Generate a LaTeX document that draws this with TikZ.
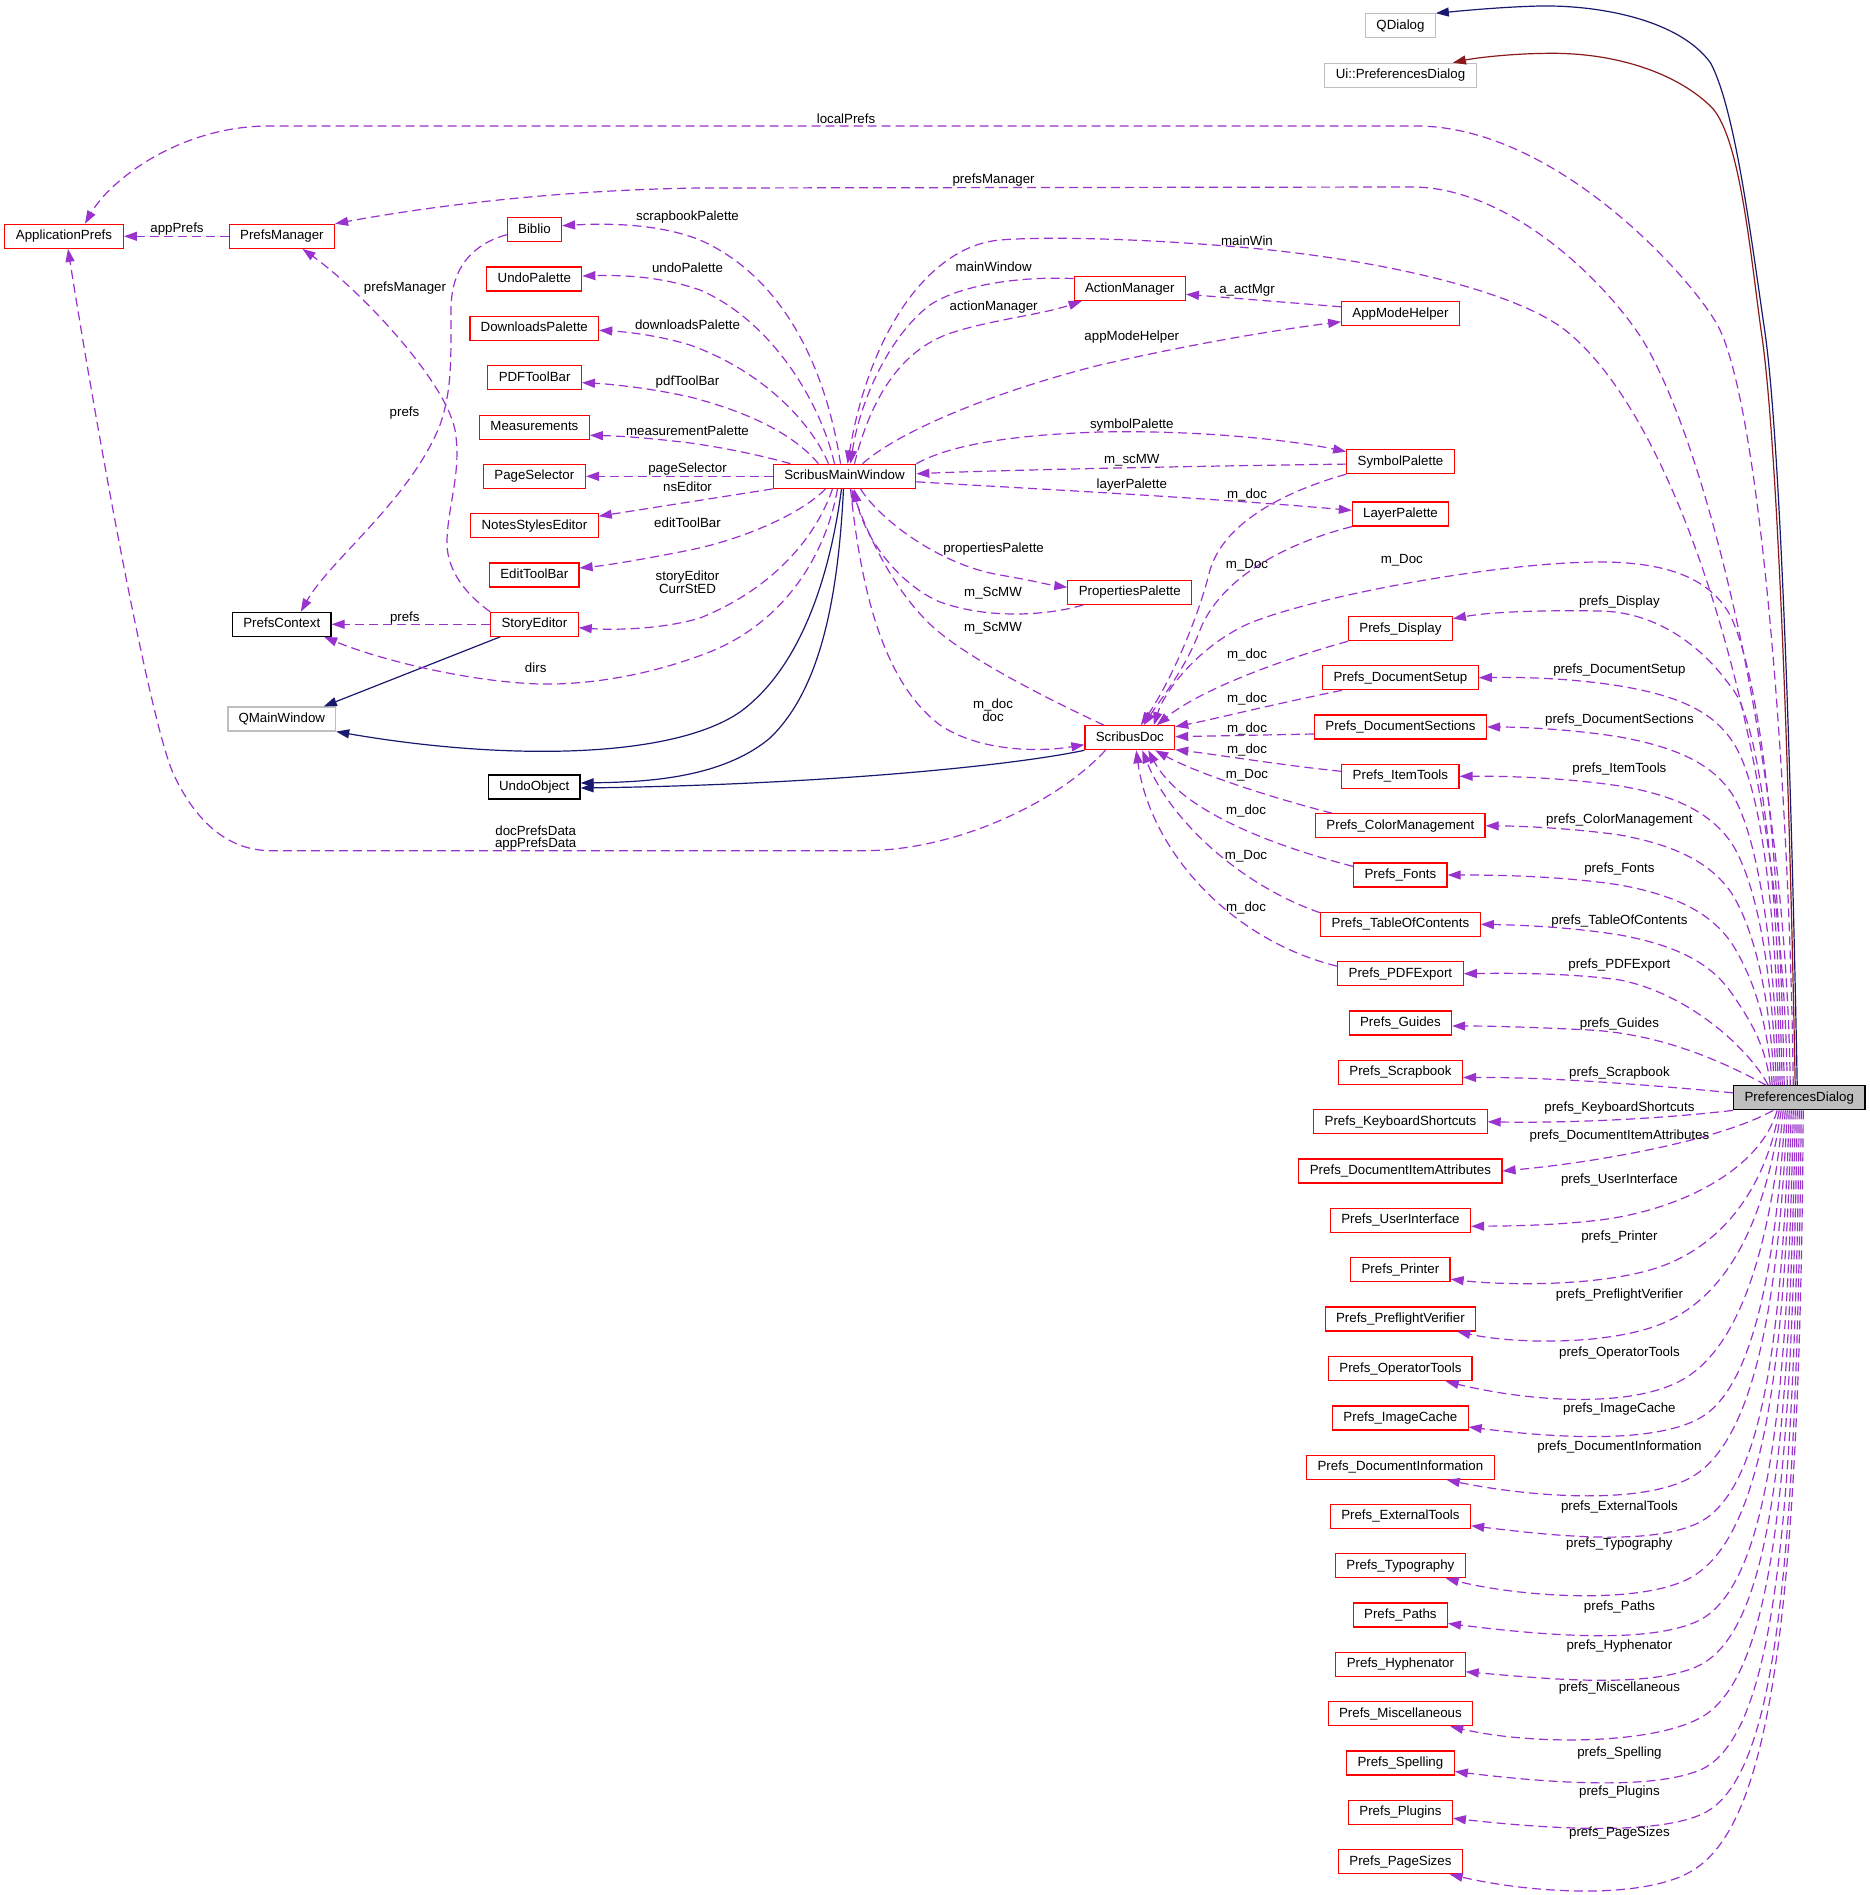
\documentclass[tikz,border=0pt]{standalone}
\usepackage{fontspec}
\setmainfont{Liberation Sans}
\usetikzlibrary{arrows.meta}
\definecolor{epurple}{HTML}{9A32CD}
\definecolor{enavy}{HTML}{191970}
\definecolor{ered}{HTML}{8B1A1A}
\definecolor{bred}{HTML}{FF0000}
\definecolor{bgray}{HTML}{BFBFBF}
\newcommand\dgfont{\fontsize{13.3}{12.7}\selectfont}
\tikzset{
 cls/.style={draw=bred, line width=1.2pt, fill=white, minimum height=24pt, inner sep=0pt, text height=9.7pt, text depth=2.8pt, font=\dgfont},
 ext/.style={cls, draw=bgray},
 blk/.style={cls, draw=black},
 cur/.style={cls, draw=black, fill=bgray},
 lbl/.style={font=\dgfont, inner sep=0pt, text height=9.7pt, text depth=2.8pt},
 lbltwo/.style={font=\dgfont, inner sep=0pt, align=center},
 use/.style={draw=epurple, line width=1.2pt, dash pattern=on 9pt off 5pt, -{Triangle[length=13pt,width=9pt]}},
 inhn/.style={draw=enavy, line width=1.2pt, -{Triangle[length=13pt,width=9pt]}},
 inhr/.style={draw=ered, line width=1.2pt, -{Triangle[length=13pt,width=9pt]}}
}
\begin{document}
\begin{tikzpicture}[x=1pt,y=-1pt]
\path[fill=white] (0,0) rectangle (1870,1895);
\useasboundingbox (0,0) rectangle (1870,1895);

% ---------- nodes ----------
\node[ext, minimum width=69.4pt] (qd) at (1400.5,25.8) {QDialog};
\node[ext, minimum width=151.6pt] (ui) at (1400.5,75.3) {Ui::PreferencesDialog};
\node[cls, minimum width=118.7pt] (ap) at (64,236.3) {ApplicationPrefs};
\node[cls, minimum width=105.2pt] (pm) at (281.9,236.3) {PrefsManager};
\node[cls, minimum width=54.2pt] (bib) at (534.4,229.7) {Biblio};
\node[cls, minimum width=95pt] (undo) at (534.3,279) {UndoPalette};
\node[cls, minimum width=128.6pt] (dl) at (534.3,328.3) {DownloadsPalette};
\node[cls, minimum width=93.5pt] (pdf) at (534.6,377.7) {PDFToolBar};
\node[cls, minimum width=109.7pt] (meas) at (534.4,427.3) {Measurements};
\node[cls, minimum width=102.2pt] (psel) at (534.3,476.3) {PageSelector};
\node[cls, minimum width=127.5pt] (nse) at (534.4,525.7) {NotesStylesEditor};
\node[cls, minimum width=89.4pt] (etb) at (534.3,575) {EditToolBar};
\node[cls, minimum width=87.5pt] (se) at (534.4,624.3) {StoryEditor};
\node[blk, minimum width=98.5pt] (pc) at (281.8,624.3) {PrefsContext};
\node[ext, minimum width=107.6pt] (qmw) at (281.8,719) {QMainWindow};
\node[blk, minimum width=91.7pt] (uo) at (534.2,787) {UndoObject};
\node[cls, minimum width=142.5pt] (smw) at (844.5,476.3) {ScribusMainWindow};
\node[cls, minimum width=111.1pt] (am) at (1129.8,288.6) {ActionManager};
\node[cls, minimum width=117.5pt] (amh) at (1400.5,313.8) {AppModeHelper};
\node[cls, minimum width=107.5pt] (sym) at (1400.5,461.6) {SymbolPalette};
\node[cls, minimum width=96.1pt] (lay) at (1400.5,514) {LayerPalette};
\node[cls, minimum width=123.9pt] (pp) at (1129.8,592.3) {PropertiesPalette};
\node[cls, minimum width=89.6pt] (sd) at (1129.8,737.7) {ScribusDoc};
\node[cur, minimum width=131.6pt] (pd) at (1799.2,1097.8) {PreferencesDialog};

\node[cls, minimum width=103.8pt] (pdisp) at (1400.4,628.7) {Prefs\_Display};
\node[cls, minimum width=155.7pt] (pdset) at (1400.4,677.7) {Prefs\_DocumentSetup};
\node[cls, minimum width=172.1pt] (pdsec) at (1400.4,727) {Prefs\_DocumentSections};
\node[cls, minimum width=117.2pt] (pit) at (1400.4,776.3) {Prefs\_ItemTools};
\node[cls, minimum width=169.3pt] (pcm) at (1400.4,825.8) {Prefs\_ColorManagement};
\node[cls, minimum width=93.3pt] (pfo) at (1400.4,875) {Prefs\_Fonts};
\node[cls, minimum width=159.6pt] (ptoc) at (1400.4,924.3) {Prefs\_TableOfContents};
\node[cls, minimum width=125.6pt] (ppdf) at (1400.4,973.7) {Prefs\_PDFExport};
\node[cls, minimum width=102.4pt] (pgu) at (1400.4,1023) {Prefs\_Guides};
\node[cls, minimum width=124.2pt] (psc) at (1400.4,1072.5) {Prefs\_Scrapbook};
\node[cls, minimum width=173.4pt] (pks) at (1400.4,1121.8) {Prefs\_KeyboardShortcuts};
\node[cls, minimum width=203.1pt] (pdia) at (1400.4,1171) {Prefs\_DocumentItemAttributes};
\node[cls, minimum width=140.3pt] (pui) at (1400.4,1220.3) {Prefs\_UserInterface};
\node[cls, minimum width=99.3pt] (ppr) at (1400.4,1269.7) {Prefs\_Printer};
\node[cls, minimum width=150.5pt] (ppv) at (1400.4,1319) {Prefs\_PreflightVerifier};
\node[cls, minimum width=143.3pt] (pot) at (1400.4,1368.7) {Prefs\_OperatorTools};
\node[cls, minimum width=135.4pt] (pimc) at (1400.4,1418) {Prefs\_ImageCache};
\node[cls, minimum width=187.4pt] (pdi) at (1400.4,1467.3) {Prefs\_DocumentInformation};
\node[cls, minimum width=140.3pt] (pet) at (1400.4,1516.3) {Prefs\_ExternalTools};
\node[cls, minimum width=129.4pt] (pty) at (1400.4,1565.7) {Prefs\_Typography};
\node[cls, minimum width=94pt] (ppa) at (1400.4,1615) {Prefs\_Paths};
\node[cls, minimum width=129.4pt] (phy) at (1400.4,1664.3) {Prefs\_Hyphenator};
\node[cls, minimum width=144.4pt] (pmi) at (1400.4,1713.7) {Prefs\_Miscellaneous};
\node[cls, minimum width=107.6pt] (psp) at (1400.4,1763) {Prefs\_Spelling};
\node[cls, minimum width=103.8pt] (ppl) at (1400.4,1812.3) {Prefs\_Plugins};
\node[cls, minimum width=123.4pt] (pps) at (1400.4,1861.7) {Prefs\_PageSizes};

% ---------- inheritance ----------
\draw[inhn] ([xshift=-2pt]pd.north) .. controls (1790,700) and (1778,420) .. (1764.6,330) .. controls (1750,230) and (1735,110) .. (1710.8,63.3) .. controls (1680,20) and (1600,5) .. (1540,6) .. controls (1500,7) and (1460,11) .. (qd.north east);
\draw[inhr] ([xshift=-4pt]pd.north) .. controls (1788,700) and (1775,420) .. (1761,330) .. controls (1750,250) and (1740,140) .. (1712.6,108.3) .. controls (1680,75) and (1620,53) .. (1550.8,53.3) .. controls (1510,53.5) and (1475,58) .. ([xshift=-24pt]ui.north east);
\draw[inhn] ([xshift=10pt]se.south west) -- ([xshift=42pt]qmw.north);
\draw[inhn] ([xshift=-3pt]smw.south) .. controls (828,590) and (795,672) .. (740,712) .. controls (670,760) and (500,760) .. (qmw.south east);
\draw[inhn] ([xshift=-1pt]smw.south) .. controls (838,600) and (820,690) .. (770,738) .. controls (720,780) and (640,782) .. ([yshift=4pt]uo.east);
\draw[inhn] (sd.south west) .. controls (1000,768) and (800,785) .. ([yshift=-1pt]uo.east);

% ---------- PreferencesDialog upper edges ----------
\draw[use] ([xshift=-6pt]pd.north) .. controls (1790,800) and (1762,420) .. (1720,330) .. controls (1700,287) and (1560,126) .. (1416,126) -- (269,126) .. controls (180,126) and (110,180) .. ([xshift=21pt]ap.north);
\draw[use] ([xshift=-9pt]pd.north) .. controls (1786,750) and (1700,420) .. (1636,330) .. controls (1590,265) and (1500,187) .. (1412,187) -- (700,188) .. controls (550,190) and (420,208) .. (pm.north east);
\draw[use] ([xshift=-12pt]pd.north) .. controls (1783,750) and (1680,420) .. (1565,330) .. controls (1520,295) and (1400,262) .. (1250,248) .. controls (1150,239) and (1050,236) .. (1000,240) .. controls (930,246) and (870,330) .. ([xshift=3pt]smw.north);
\draw[use] ([xshift=-15pt]pd.north) .. controls (1780,850) and (1760,680) .. (1731,617) .. controls (1712,580) and (1670,562) .. (1600,562) .. controls (1500,562) and (1320,595) .. (1250,623) .. controls (1200,645) and (1165,690) .. ([xshift=24pt]sd.north);
\draw[use] ([xshift=-17pt]pd.north) .. controls (1778,880) and (1760,720) .. (1731,687) .. controls (1705,650) and (1660,612) .. (1600,611) .. controls (1540,610) and (1490,612) .. ([yshift=10pt]pdisp.east);
\draw[use] ([xshift=-19pt]pd.north) .. controls (1776,900) and (1760,780) .. (1731.5,740) .. controls (1712,712) and (1680,696) .. (1620,686) .. controls (1570,678) and (1520,677) .. (pdset.east);
\draw[use] ([xshift=-21pt]pd.north) .. controls (1774,930) and (1755,830) .. (1731.5,793) .. controls (1712,765) and (1680,748) .. (1620,737) .. controls (1570,729) and (1520,727) .. (pdsec.east);
\draw[use] ([xshift=-23pt]pd.north) .. controls (1772,960) and (1755,880) .. (1731.5,843) .. controls (1712,815) and (1680,796) .. (1620,786) .. controls (1560,777) and (1500,776) .. (pit.east);
\draw[use] ([xshift=-25pt]pd.north) .. controls (1770,990) and (1752,925) .. (1731.5,893) .. controls (1712,865) and (1680,846) .. (1620,835) .. controls (1570,828) and (1520,826) .. (pcm.east);
\draw[use] ([xshift=-27pt]pd.north) .. controls (1768,1020) and (1752,975) .. (1731.5,943) .. controls (1712,915) and (1680,896) .. (1620,885) .. controls (1560,876) and (1500,875) .. (pfo.east);
\draw[use] ([xshift=-29pt]pd.north) .. controls (1766,1045) and (1750,1020) .. (1731.5,993) .. controls (1712,965) and (1680,946) .. (1620,935) .. controls (1570,927) and (1520,925) .. (ptoc.east);
\draw[use] ([xshift=-31pt]pd.north) .. controls (1750,1050) and (1690,994) .. (1620,980) .. controls (1570,973) and (1510,973) .. (ppdf.east);
\draw[use] ([xshift=-33pt]pd.north) .. controls (1720,1060) and (1660,1034) .. (1590,1030) .. controls (1530,1027) and (1490,1026) .. ([yshift=-3pt]pgu.east);
\draw[use] ([yshift=5pt]pd.west) .. controls (1650,1085) and (1550,1077) .. ([yshift=-5pt]psc.east);
\draw[use] (pd.south west) .. controls (1650,1120) and (1560,1123) .. (pks.east);

% ---------- PreferencesDialog lower edges ----------
\draw[use] ([xshift=-26pt]pd.south) .. controls (1720,1140) and (1600,1162) .. (pdia.east);
\draw[use] ([xshift=-22pt]pd.south) .. controls (1760,1170) and (1680,1210) .. (1600,1220) .. controls (1550,1226) and (1500,1226) .. ([yshift=-6pt]pui.east);
\draw[use] ([xshift=-20pt]pd.south) .. controls (1765,1190) and (1720,1250) .. (1650,1270) .. controls (1590,1287) and (1500,1285) .. ([yshift=-9.5pt]ppr.east);
\draw[use] ([xshift=-18pt]pd.south) .. controls (1765,1220) and (1730,1290) .. (1670,1320) .. controls (1620,1345) and (1520,1345) .. ([xshift=-19pt]ppv.south east);
\draw[use] ([xshift=-16pt]pd.south) .. controls (1770,1250) and (1740,1340) .. (1690,1375) .. controls (1640,1410) and (1530,1402) .. ([xshift=-27pt]pot.south east);
\draw[use] ([xshift=-14pt]pd.south) .. controls (1775,1280) and (1750,1390) .. (1700,1418) .. controls (1650,1446) and (1540,1436) .. ([yshift=-9pt]pimc.east);
\draw[use] ([xshift=-12pt]pd.south) .. controls (1778,1320) and (1750,1445) .. (1690,1478) .. controls (1640,1505) and (1530,1497) .. ([xshift=-48pt]pdi.south east);
\draw[use] ([xshift=-10pt]pd.south) .. controls (1782,1350) and (1760,1490) .. (1700,1522) .. controls (1650,1548) and (1540,1534) .. ([yshift=-9.5pt]pet.east);
\draw[use] ([xshift=-8pt]pd.south) .. controls (1785,1380) and (1760,1540) .. (1690,1578) .. controls (1640,1605) and (1520,1597) .. ([xshift=-20pt]pty.south east);
\draw[use] ([xshift=-6pt]pd.south) .. controls (1788,1420) and (1765,1585) .. (1700,1620) .. controls (1650,1645) and (1540,1635) .. ([yshift=-8.5pt]ppa.east);
\draw[use] ([xshift=-4pt]pd.south) .. controls (1790,1460) and (1768,1630) .. (1700,1665) .. controls (1650,1690) and (1540,1678) .. ([yshift=-7.5pt]phy.east);
\draw[use] ([xshift=-2pt]pd.south) .. controls (1792,1500) and (1770,1680) .. (1700,1718) .. controls (1650,1745) and (1530,1745) .. ([xshift=-23pt]pmi.south east);
\draw[use] (pd.south) .. controls (1795,1550) and (1770,1740) .. (1700,1770) .. controls (1650,1791) and (1540,1782) .. ([yshift=-8.5pt]psp.east);
\draw[use] ([xshift=2pt]pd.south) .. controls (1797,1600) and (1772,1785) .. (1700,1815) .. controls (1650,1836) and (1540,1828) .. ([yshift=-6pt]ppl.east);
\draw[use] ([xshift=4pt]pd.south) .. controls (1800,1650) and (1765,1830) .. (1690,1872) .. controls (1640,1900) and (1530,1893) .. ([xshift=-13pt]pps.south east);

% ---------- ScribusMainWindow left side ----------
\draw[use] ([xshift=-4pt]smw.north) .. controls (828,380) and (790,280) .. (700,240) .. controls (660,224) and (610,223) .. ([yshift=4pt]bib.east);
\draw[use] ([xshift=-10pt]smw.north) .. controls (820,400) and (770,320) .. (700,290) .. controls (660,276) and (620,275) .. ([yshift=3pt]undo.east);
\draw[use] ([xshift=-16pt]smw.north) .. controls (810,420) and (760,370) .. (690,345) .. controls (660,336) and (630,332) .. ([yshift=-2pt]dl.east);
\draw[use] ([xshift=-26pt]smw.north) .. controls (790,430) and (740,410) .. (690,397) .. controls (650,388) and (610,384) .. ([yshift=-5pt]pdf.east);
\draw[use] ([xshift=-54pt]smw.north) .. controls (760,455) and (720,447) .. (690,443) .. controls (650,438) and (620,436) .. ([yshift=-8pt]meas.east);
\draw[use] (smw.west) -- (psel.east);
\draw[use] (smw.south west) -- ([yshift=9.5pt]nse.east);
\draw[use] ([xshift=-19pt]smw.south) .. controls (800,515) and (740,540) .. (690,550) .. controls (650,558) and (610,565) .. ([yshift=7pt]etb.east);
\draw[use] ([xshift=-12pt]smw.south) .. controls (815,540) and (770,590) .. (700,618) .. controls (660,630) and (610,630) .. ([yshift=-3.4pt]se.east);
\draw[use] ([xshift=-7pt]smw.south) .. controls (825,560) and (780,625) .. (707,653) .. controls (650,675) and (590,685) .. (540,684) .. controls (470,682) and (380,660) .. ([xshift=-7.5pt]pc.south east);
\draw[use] (se.west) -- (pc.east);
\draw[use] (se.north west) .. controls (460,590) and (446,565) .. (447,540) .. controls (448,505) and (462,470) .. (455,430) .. controls (445,380) and (360,290) .. ([xshift=20.6pt]pm.south);
\draw[use] ([yshift=-5pt]bib.west) .. controls (470,245) and (451,270) .. (451,310) .. controls (451,360) and (452,390) .. (440,425) .. controls (410,500) and (330,560) .. ([xshift=19pt]pc.north);
\draw[use] (pm.west) -- (ap.east);
\draw[use] ([xshift=21pt]sd.south west) .. controls (1060,800) and (960,850) .. (865,850.7) -- (271,850.7) .. controls (220,850.7) and (190,810) .. (173,773) .. controls (150,720) and (100,450) .. ([xshift=4pt]ap.south);

% ---------- ScribusMainWindow right side ----------
\draw[use] ([yshift=10pt]am.west) .. controls (1020,276) and (960,285) .. (930,305) .. controls (890,335) and (860,400) .. ([xshift=6pt]smw.north);
\draw[use] ([xshift=10pt]smw.north) .. controls (870,400) and (900,350) .. (951,333) .. controls (990,320) and (1040,315) .. ([xshift=8pt]am.south west);
\draw[use] ([yshift=7pt]amh.west) -- ([yshift=-5.7pt]am.east);
\draw[use] ([xshift=18pt]smw.north) .. controls (900,430) and (1000,390) .. (1100,365) .. controls (1200,342) and (1290,328) .. ([yshift=-8pt]amh.west);
\draw[use] (smw.north east) .. controls (950,445) and (1010,435) .. (1100,432) .. controls (1200,430) and (1290,440) .. ([yshift=10pt]sym.west);
\draw[use] ([yshift=-2.5pt]sym.west) .. controls (1200,466) and (1000,470) .. ([yshift=2.5pt]smw.east);
\draw[use] ([yshift=-5.5pt]smw.east) .. controls (1000,487) and (1200,497) .. ([yshift=3.6pt]lay.west);
\draw[use] ([xshift=16pt]smw.south) .. controls (880,520) and (940,565) .. (1000,575) .. controls (1030,580) and (1050,585) .. ([yshift=5pt]pp.west);
\draw[use] ([xshift=16pt]pp.south west) .. controls (1050,615) and (990,620) .. (940,602) .. controls (900,585) and (865,540) .. ([xshift=9.5pt]smw.south);
\draw[use] ([xshift=-26pt]sd.north) .. controls (1050,700) and (970,660) .. (933,627) .. controls (895,592) and (870,540) .. ([xshift=7pt]smw.south);
\draw[use] ([xshift=6pt]smw.south) .. controls (860,580) and (880,680) .. (940,725) .. controls (980,752) and (1040,752) .. ([yshift=-7pt]sd.west);

% ---------- into ScribusDoc ----------
\draw[use] (sym.south west) .. controls (1290,490) and (1225,520) .. (1210,570) .. controls (1195,630) and (1165,690) .. ([xshift=11pt]sd.north);
\draw[use] (lay.south west) .. controls (1280,545) and (1220,580) .. (1200,630) .. controls (1185,670) and (1160,700) .. ([xshift=14pt]sd.north);
\draw[use] (pdisp.south west) .. controls (1280,660) and (1200,690) .. ([xshift=27pt]sd.north);
\draw[use] ([xshift=20pt]pdset.south west) .. controls (1270,705) and (1210,720) .. ([yshift=11pt]sd.east);
\draw[use] ([yshift=-7pt]pdsec.west) -- ([yshift=1pt]sd.east);
\draw[use] ([yshift=5pt]pit.west) .. controls (1280,765) and (1220,755) .. ([yshift=-12pt]sd.east);
\draw[use] ([xshift=17pt]pcm.north west) .. controls (1280,800) and (1200,775) .. ([xshift=-20pt]sd.south east);
\draw[use] ([yshift=-4pt]pfo.north west) .. controls (1270,845) and (1180,810) .. ([xshift=-27pt]sd.south east);
\draw[use] ([yshift=-1pt]ptoc.north west) .. controls (1240,885) and (1170,820) .. ([xshift=-33pt]sd.south east);
\draw[use] ([yshift=-5pt]ppdf.north west) .. controls (1230,940) and (1150,850) .. ([xshift=-39pt]sd.south east);

% ---------- labels ----------
\node[lbl] (l01) at (846,119.7) {localPrefs};
\node[lbl] (l02) at (993.6,180) {prefsManager};
\node[lbl] (l03) at (177,229) {appPrefs};
\node[lbl] (l04) at (405,288) {prefsManager};
\node[lbl] (l05) at (404.5,413) {prefs};
\node[lbl] (l06) at (404.8,617.7) {prefs};
\node[lbl] (l07) at (535.7,668.7) {dirs};
\node[lbl] (l08) at (687.5,217.3) {scrapbookPalette};
\node[lbl] (l09) at (687.5,269.3) {undoPalette};
\node[lbl] (l10) at (687.5,325.7) {downloadsPalette};
\node[lbl] (l11) at (687.5,381.7) {pdfToolBar};
\node[lbl] (l12) at (687.5,432.3) {measurementPalette};
\node[lbl] (l13) at (687.5,469.3) {pageSelector};
\node[lbl] (l14) at (687.5,488.3) {nsEditor};
\node[lbl] (l15) at (687.5,524.3) {editToolBar};
\node[lbltwo] (l16) at (687.5,582) {storyEditor\\CurrStED};
\node[lbl] (l17) at (1247,241.8) {mainWin};
\node[lbl] (l18) at (993.6,268.4) {mainWindow};
\node[lbl] (l19) at (993.6,307) {actionManager};
\node[lbl] (l20) at (1247,289.6) {a\_actMgr};
\node[lbl] (l21) at (1131.8,337.5) {appModeHelper};
\node[lbl] (l22) at (1131.8,424.6) {symbolPalette};
\node[lbl] (l23) at (1131.8,460.4) {m\_scMW};
\node[lbl] (l24) at (1131.8,484.6) {layerPalette};
\node[lbl] (l25) at (1247,495.4) {m\_doc};
\node[lbl] (l26) at (993.6,548.8) {propertiesPalette};
\node[lbl] (l27) at (993,593.3) {m\_ScMW};
\node[lbl] (l28) at (993,627.7) {m\_ScMW};
\node[lbl] (l29) at (1247,564.6) {m\_Doc};
\node[lbl] (l30) at (1401.8,560.4) {m\_Doc};
\node[lbl] (l31) at (1247,655.4) {m\_doc};
\node[lbl] (l32) at (1247,699.3) {m\_doc};
\node[lbl] (l33) at (1247,729.3) {m\_doc};
\node[lbl] (l34) at (1247,749.6) {m\_doc};
\node[lbl] (l35) at (1247,775.4) {m\_Doc};
\node[lbl] (l36) at (1246,811) {m\_doc};
\node[lbl] (l37) at (1246,856) {m\_Doc};
\node[lbl] (l38) at (1246,908) {m\_doc};
\node[lbltwo] (l39) at (993,710.3) {m\_doc\\doc};
\node[lbltwo] (l40) at (535.7,838) {docPrefsData\\appPrefsData};

\node[lbl] (r01) at (1619.4,602) {prefs\_Display};
\node[lbl] (r02) at (1619.4,670) {prefs\_DocumentSetup};
\node[lbl] (r03) at (1619.4,720) {prefs\_DocumentSections};
\node[lbl] (r04) at (1619.4,768.7) {prefs\_ItemTools};
\node[lbl] (r05) at (1619.4,819.7) {prefs\_ColorManagement};
\node[lbl] (r06) at (1619.4,868.7) {prefs\_Fonts};
\node[lbl] (r07) at (1619.4,920.7) {prefs\_TableOfContents};
\node[lbl] (r08) at (1619.4,964.7) {prefs\_PDFExport};
\node[lbl] (r09) at (1619.4,1024.3) {prefs\_Guides};
\node[lbl] (r10) at (1619.4,1073.3) {prefs\_Scrapbook};
\node[lbl] (r11) at (1619.4,1108.3) {prefs\_KeyboardShortcuts};
\node[lbl] (r12) at (1619.4,1135.7) {prefs\_DocumentItemAttributes};
\node[lbl] (r13) at (1619.4,1180.3) {prefs\_UserInterface};
\node[lbl] (r14) at (1619.4,1236.7) {prefs\_Printer};
\node[lbl] (r15) at (1619.4,1295.3) {prefs\_PreflightVerifier};
\node[lbl] (r16) at (1619.4,1352.7) {prefs\_OperatorTools};
\node[lbl] (r17) at (1619.4,1409.3) {prefs\_ImageCache};
\node[lbl] (r18) at (1619.4,1447.3) {prefs\_DocumentInformation};
\node[lbl] (r19) at (1619.4,1507.3) {prefs\_ExternalTools};
\node[lbl] (r20) at (1619.4,1544.3) {prefs\_Typography};
\node[lbl] (r21) at (1619.4,1607.3) {prefs\_Paths};
\node[lbl] (r22) at (1619.4,1645.7) {prefs\_Hyphenator};
\node[lbl] (r23) at (1619.4,1687.7) {prefs\_Miscellaneous};
\node[lbl] (r24) at (1619.4,1752.7) {prefs\_Spelling};
\node[lbl] (r25) at (1619.4,1791.7) {prefs\_Plugins};
\node[lbl] (r26) at (1619.4,1833.3) {prefs\_PageSizes};
\end{tikzpicture}
\end{document}
